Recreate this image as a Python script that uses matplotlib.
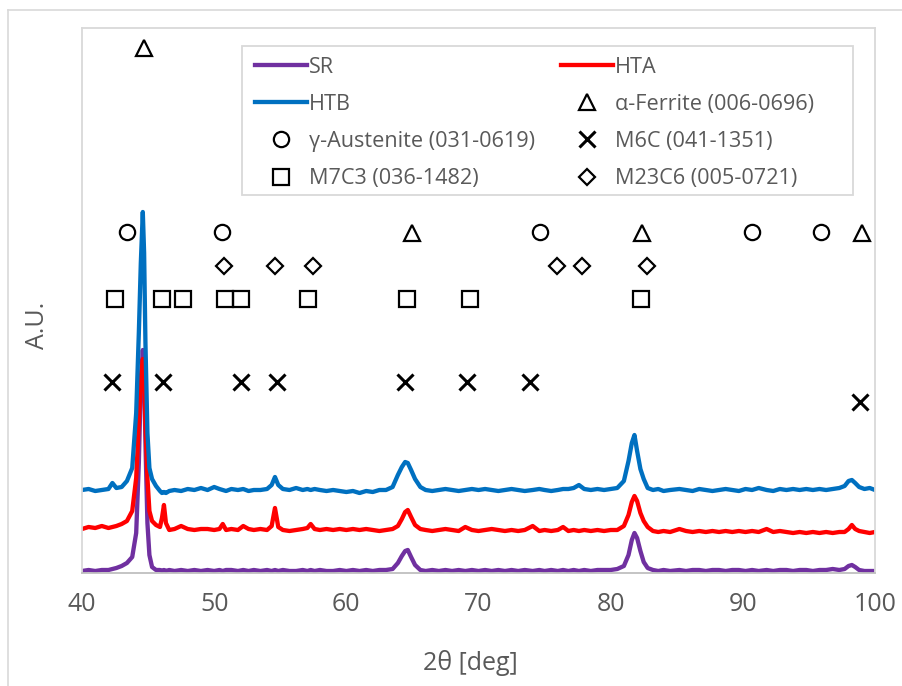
import matplotlib
matplotlib.use("Agg")
import matplotlib.pyplot as plt
from matplotlib.lines import Line2D
from matplotlib.patches import Rectangle

plt.rcParams['font.family'] = ['Open Sans', 'DejaVu Sans']

# ---------------- data ----------------
two_theta = [
    40.0, 40.5, 41.0, 41.5, 42.0, 42.3, 42.6, 43.0, 43.4, 43.8,
    44.1, 44.3, 44.45, 44.6, 44.7, 44.8, 44.95, 45.1, 45.3, 45.6,
    45.9, 46.05, 46.2, 46.35, 46.6, 47.0, 47.5, 48.0, 48.5, 49.0,
    49.5, 50.0, 50.4, 50.65, 50.9, 51.3, 51.8, 52.2, 52.6, 53.0,
    53.5, 54.0, 54.35, 54.6, 54.85, 55.2, 55.7, 56.2, 56.7, 57.05,
    57.3, 57.6, 58.0, 58.5, 59.0, 59.5, 60.0, 60.5, 61.0, 61.5,
    62.0, 62.5, 63.0, 63.5, 63.9, 64.2, 64.45, 64.65, 64.9, 65.2,
    65.6, 66.0, 66.5, 67.0, 67.5, 68.0, 68.5, 69.0, 69.5, 70.0,
    70.5, 71.0, 71.5, 72.0, 72.5, 73.0, 73.5, 74.1, 74.6, 75.0,
    75.5, 76.0, 76.4, 76.8, 77.2, 77.6, 78.0, 78.5, 79.0, 79.5,
    80.0, 80.5, 81.0, 81.35, 81.6, 81.8, 82.0, 82.25, 82.5, 82.8,
    83.2, 83.6, 84.0, 84.5, 85.2, 85.7, 86.2, 86.7, 87.2, 87.7,
    88.2, 88.7, 89.2, 89.7, 90.2, 90.7, 91.2, 91.8, 92.3, 92.8,
    93.3, 93.8, 94.3, 94.8, 95.3, 95.8, 96.3, 96.8, 97.3, 97.7,
    98.0, 98.25, 98.5, 98.8, 99.2, 99.6, 100.0,
]

sr = [
    2, 3, 2, 3, 3, 4, 5, 7, 10, 16,
    40, 110, 190, 223, 200, 130, 50, 18, 6, 3,
    3, 2, 3, 2, 3, 2, 3, 2, 3, 2,
    3, 2, 3, 2, 3, 3, 2, 3, 2, 3,
    2, 3, 2, 3, 2, 3, 2, 2, 3, 2,
    3, 2, 3, 2, 2, 3, 2, 3, 2, 3,
    2, 3, 3, 4, 10, 17, 22, 23, 16, 8,
    3, 2, 3, 2, 3, 2, 3, 2, 3, 2,
    3, 2, 3, 2, 3, 2, 3, 2, 3, 2,
    3, 2, 3, 2, 3, 2, 3, 2, 3, 3,
    3, 4, 7, 18, 33, 40, 35, 22, 11, 5,
    3, 2, 3, 2, 3, 2, 3, 3, 2, 3,
    3, 2, 3, 3, 2, 3, 2, 3, 2, 3,
    3, 2, 3, 3, 2, 3, 3, 4, 3, 4,
    7, 8, 6, 3, 2, 2, 2,
]

hta = [
    44, 46, 45, 47, 45, 46, 47, 49, 52, 62,
    95, 150, 195, 214, 200, 150, 95, 62, 52, 48,
    46, 55, 68, 50, 43, 44, 47, 44, 43, 44,
    44, 43, 44, 49, 43, 44, 43, 47, 44, 43,
    44, 43, 47, 65, 46, 43, 42, 43, 44, 45,
    49, 44, 43, 44, 43, 44, 43, 44, 43, 44,
    43, 42, 43, 44, 47, 54, 61, 63, 56, 48,
    44, 43, 42, 43, 44, 43, 42, 46, 43, 42,
    43, 44, 43, 42, 43, 42, 43, 47, 42, 43,
    42, 43, 46, 42, 43, 42, 43, 42, 43, 42,
    43, 43, 47, 58, 71, 77, 72, 60, 52, 46,
    42, 41, 42, 41, 44, 42, 41, 42, 41, 42,
    41, 42, 41, 42, 41, 42, 41, 44, 41, 42,
    41, 40, 41, 40, 41, 40, 41, 40, 41, 41,
    44, 48, 44, 42, 41, 40, 41,
]

htb = [
    83, 84, 82, 83, 84, 90, 85, 86, 92, 105,
    160, 240, 310, 361, 320, 230, 140, 105, 94, 87,
    82, 80, 81, 80, 82, 83, 82, 84, 83, 85,
    83, 86, 84, 83, 82, 84, 83, 84, 82, 83,
    83, 84, 88, 96, 88, 84, 83, 85, 83, 84,
    83, 84, 83, 82, 83, 82, 81, 82, 80, 82,
    81, 83, 83, 86, 98, 106, 111, 110, 103, 94,
    86, 83, 82, 83, 84, 83, 82, 83, 84, 83,
    84, 83, 82, 83, 84, 83, 82, 83, 84, 83,
    82, 83, 84, 84, 85, 88, 84, 83, 84, 83,
    84, 85, 92, 112, 130, 138, 122, 104, 94, 85,
    83, 84, 82, 83, 84, 83, 82, 84, 83, 82,
    83, 84, 83, 82, 84, 83, 85, 83, 82, 84,
    83, 84, 83, 84, 83, 84, 83, 84, 85, 87,
    92, 93, 90, 86, 84, 85, 83,
]

ferrite_x = [44.7, 65.0, 82.37, 99.02]
ferrite_y = [525, 340, 340, 340]
austenite_x = [43.43, 50.63, 74.64, 90.68, 95.91]
austenite_y = [341, 341, 341, 341, 341]
m23c6_x = [50.78, 54.57, 57.48, 75.96, 77.8, 82.73]
m23c6_y = [307, 307, 307, 307, 307, 307]
m7c3_x = [42.5, 46.08, 47.67, 50.83, 52.05, 57.07, 64.6, 69.39, 82.27]
m7c3_y = [274, 274, 274, 274, 274, 274, 274, 274, 274]
m6c_x = [42.25, 46.16, 52.05, 54.75, 64.42, 69.14, 73.86, 98.86]
m6c_y = [191, 191, 191, 191, 191, 191, 191, 171]

series_names = ['SR', 'HTA', 'HTB']
series_colors = ['#7030A0', '#FF0000', '#0070C0']
x_ticks = [40, 50, 60, 70, 80, 90, 100]

# ---------------- figure ----------------
W, H = 903, 686
fig = plt.figure(figsize=(W / 100, H / 100), dpi=100)
fig.patch.set_facecolor('white')

# outer chart border (left + top visible)
fig.add_artist(Line2D([8 / W, 8 / W], [0, 1 - 10 / H], color='#D9D9D9', lw=1.2,
                      transform=fig.transFigure))
fig.add_artist(Line2D([8 / W, 1], [1 - 10 / H, 1 - 10 / H], color='#D9D9D9', lw=1.2,
                      transform=fig.transFigure))

ax = fig.add_axes([82 / W, (H - 573) / H, (875 - 82) / W, (573 - 28) / H])
ax.set_xlim(40, 100)
ax.set_ylim(0, 545)
for s in ax.spines.values():
    s.set_color('#D9D9D9')
    s.set_linewidth(1.3)
ax.spines['bottom'].set_color('#BFBFBF')
ax.set_yticks([])
ax.set_xticks(x_ticks)
ax.set_xticklabels([str(t) for t in x_ticks])
ax.tick_params(axis='x', length=0, pad=14, labelsize=18, labelcolor='#595959')

lw = 3.1
for ys, name, col in zip([sr, hta, htb], series_names, series_colors):
    ax.plot(two_theta, ys, color=col, lw=lw, solid_joinstyle='round', label=name, zorder=2)

mk = dict(linestyle='none', color='black', mfc='none', mew=1.6, zorder=3)
ax.plot(ferrite_x, ferrite_y, marker='^', ms=11, **mk)
ax.plot(austenite_x, austenite_y, marker='o', ms=11, **mk)
ax.plot(m23c6_x, m23c6_y, marker='D', ms=8.5, **mk)
ax.plot(m7c3_x, m7c3_y, marker='s', ms=11, **mk)
ax.plot(m6c_x, m6c_y, marker='x', ms=11, mew=2.2, linestyle='none', color='black', zorder=3)

fig.text(470 / W, 1 - 663 / H, '2θ [deg]', ha='center', va='center', fontsize=18, color='#595959')
fig.text(38 / W, 1 - 325 / H, 'A.U.', ha='center', va='center', rotation=90, fontsize=18, color='#595959')

# legend box
fig.add_artist(Rectangle((242 / W, 1 - 195 / H), (853 - 242) / W, (195 - 46) / H,
                         transform=fig.transFigure, facecolor='white', edgecolor='#D9D9D9',
                         lw=1.3, zorder=5))

def mh(marker, ms, mew=1.6):
    return Line2D([], [], linestyle='none', marker=marker, ms=ms, mfc='none', mec='black', mew=mew)

col1_h = [Line2D([], [], color=series_colors[0], lw=lw),
          Line2D([], [], color=series_colors[2], lw=lw),
          mh('o', 11), mh('s', 11)]
col1_l = ['SR', 'HTB', 'γ-Austenite (031-0619)', 'M7C3 (036-1482)']
col2_h = [Line2D([], [], color=series_colors[1], lw=lw),
          mh('^', 11), mh('x', 11, 2.2), mh('D', 8.5)]
col2_l = ['HTA', 'α-Ferrite (006-0696)', 'M6C (041-1351)', 'M23C6 (005-0721)']

leg_kw = dict(loc='upper left', frameon=False, fontsize=15.6, labelcolor='#595959',
              handlelength=2.4, handletextpad=0.1, labelspacing=0.74,
              borderpad=0, borderaxespad=0, bbox_transform=fig.transFigure)
l1 = fig.legend(col1_h, col1_l, bbox_to_anchor=(255 / W, 1 - 57 / H), **leg_kw)
l2 = fig.legend(col2_h, col2_l, bbox_to_anchor=(561 / W, 1 - 57 / H), **leg_kw)
l1.set_zorder(6)
l2.set_zorder(6)

fig.savefig('out.png', dpi=100)
